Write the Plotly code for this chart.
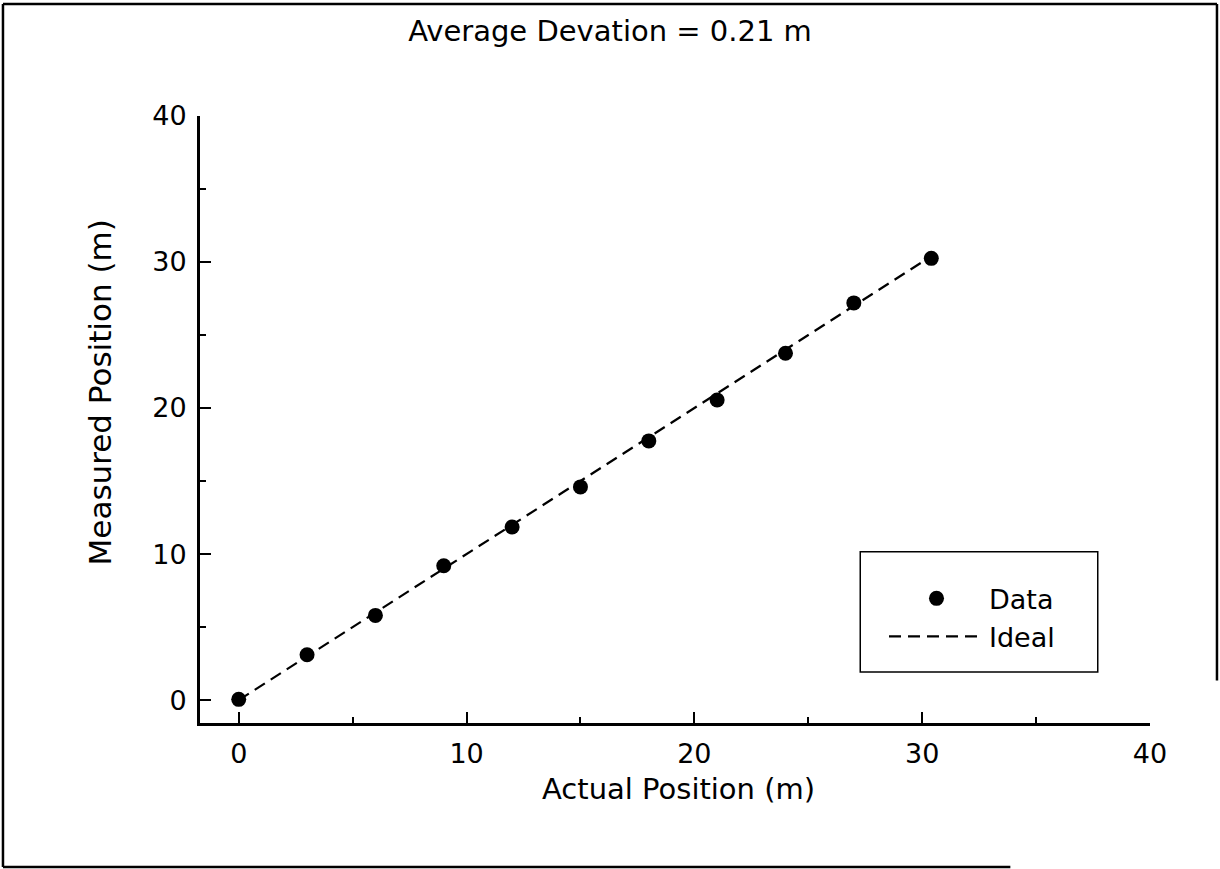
import plotly.graph_objects as go

actual_pos = [0, 3, 6, 9, 12, 15, 18, 21, 24, 27, 30.4]
measured_pos = [0.05, 3.1, 5.8, 9.2, 11.85, 14.6, 17.75, 20.55, 23.75, 27.2, 30.25]
ideal_x = [0, 30.4]
ideal_y = [0, 30.4]
tick_vals = [0, 10, 20, 30, 40]
minor_vals = [5, 15, 25, 35]
title_text = "Average Devation = 0.21 m"
x_title = "Actual Position (m)"
y_title = "Measured Position (m)"

FONT = "DejaVu Sans"

fig = go.Figure()
fig.add_trace(go.Scatter(
    x=actual_pos, y=measured_pos, mode="markers", name="Data",
    marker=dict(color="black", size=15, symbol="circle"),
))
fig.add_trace(go.Scatter(
    x=ideal_x, y=ideal_y, mode="lines", name="Ideal",
    line=dict(color="black", width=2.2, dash="12px,7px"),
))

axis_common = dict(
    showgrid=False, zeroline=False, showline=True, linecolor="black",
    linewidth=3, ticks="inside", ticklen=11, tickwidth=2, tickcolor="black",
    tickvals=tick_vals, tickfont=dict(family=FONT, size=27, color="black"),
    minor=dict(tickvals=minor_vals, ticks="inside", ticklen=6, tickwidth=2, tickcolor="black"),
)

fig.update_xaxes(range=[-1.7, 40], ticklabelstandoff=5, **axis_common)
fig.update_yaxes(range=[-1.57, 40], ticklabelstandoff=5, **axis_common)

# axis titles
fig.add_annotation(text=x_title, xref="paper", yref="paper", x=0.504, y=-0.1087,
                   xanchor="center", yanchor="middle", showarrow=False,
                   font=dict(family=FONT, size=29, color="black"))
fig.add_annotation(text=y_title, xref="paper", yref="paper", x=-0.105, y=0.545,
                   xanchor="center", yanchor="middle", showarrow=False, textangle=-90,
                   font=dict(family=FONT, size=31, color="black"))

# legend frame
fig.add_shape(type="rect", xref="paper", yref="paper",
              x0=0.695, x1=0.945, y0=0.084, y1=0.282,
              line=dict(color="black", width=1.5))
# outer border of the figure (left, top, right, bottom)
border = dict(color="black", width=2.5)
fig.add_shape(type="line", xref="paper", yref="paper", x0=-0.2074, x1=-0.2074, y0=-0.2372, y1=1.1845, line=border)
fig.add_shape(type="line", xref="paper", yref="paper", x0=-0.2074, x1=1.0705, y0=1.1845, y1=1.1845, line=border)
fig.add_shape(type="line", xref="paper", yref="paper", x0=1.0705, x1=1.0705, y0=0.07, y1=1.1845, line=border)
fig.add_shape(type="line", xref="paper", yref="paper", x0=-0.2074, x1=0.853, y0=-0.2372, y1=-0.2372, line=border)

fig.update_layout(
    width=1220, height=869,
    margin=dict(l=200, r=70, t=116, b=146),
    paper_bgcolor="white", plot_bgcolor="white",
    title=dict(text=title_text, x=0.5, xanchor="center", y=0.965, yanchor="middle",
               font=dict(family=FONT, size=29, color="black")),
    legend=dict(x=0.72, y=0.245, xanchor="left", yanchor="top",
                bgcolor="rgba(0,0,0,0)", borderwidth=0,
                font=dict(family=FONT, size=27, color="black"),
                itemwidth=95, tracegroupgap=0),
    showlegend=True,
)

fig.write_html("out.html", config={"displayModeBar": False},
               post_script="document.body.style.margin='0px';")
